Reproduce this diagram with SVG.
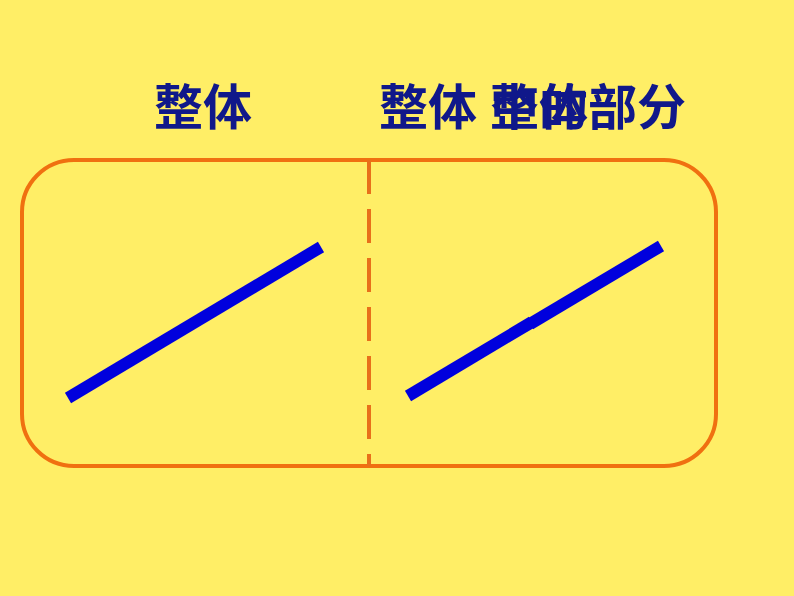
<svg xmlns="http://www.w3.org/2000/svg" width="794" height="596" viewBox="0 0 794 596">
<style>
.t{font-family:"Noto Sans CJK SC","Noto Sans CJK JP",sans-serif;font-size:49px;font-weight:bold;fill:#10188a}
.seg{stroke:#0000dd;stroke-width:12;fill:none}
</style>
<rect x="0" y="0" width="794" height="596" fill="#ffee66"/>
<g id="frame">
<rect x="22" y="160" width="694" height="306" rx="52" fill="none" stroke="#f07010" stroke-width="4"/>
</g>
<g id="connectors">
<line x1="369" y1="160" x2="369" y2="466" stroke="#e8701a" stroke-width="4" stroke-dasharray="34 15"/>
</g>
<g id="left-segment">
<line class="seg" x1="68" y1="398" x2="321" y2="247"/>
</g>
<g id="right-segment">
<line class="seg" x1="408" y1="396" x2="532" y2="322"/>
<line class="seg" x1="530" y1="324" x2="661" y2="246"/>
</g>
<g id="labels">
<text class="t" x="154" y="125">整体</text>
<text class="t" x="379" y="125">整体</text>
<text class="t" x="490" y="125">整体</text>
<text class="t" x="490" y="125">中的部分</text>
</g>
</svg>
